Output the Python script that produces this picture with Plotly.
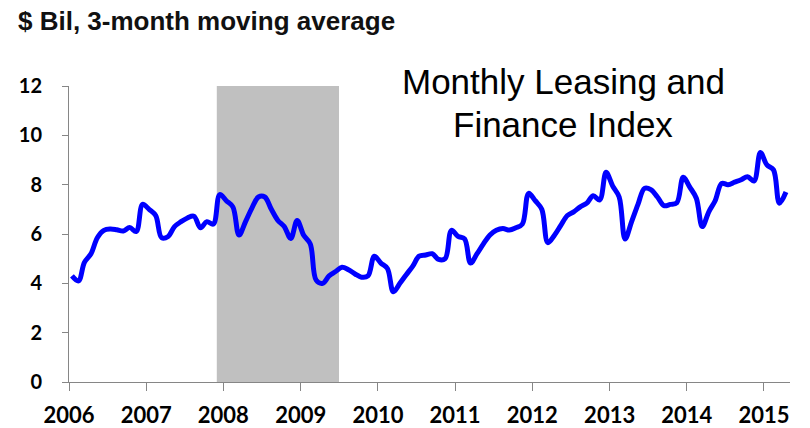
import pandas as pd
import plotly.graph_objects as go

# Monthly values, Jan 2006 .. Apr 2015 ($ Bil, 3-month moving average)
values = [
    4.30, 4.10, 4.85, 5.20, 5.85, 6.15, 6.20, 6.17, 6.12, 6.26, 6.10, 7.20,   # 2006
    7.00, 6.75, 5.85, 5.90, 6.30, 6.50, 6.65, 6.72, 6.25, 6.50, 6.40, 7.60,   # 2007
    7.35, 7.10, 5.96, 6.50, 7.05, 7.50, 7.50, 7.00, 6.55, 6.30, 5.82, 6.55,   # 2008
    5.95, 5.60, 4.13, 4.00, 4.30, 4.48, 4.65, 4.55, 4.38, 4.25, 4.30, 5.10,   # 2009
    4.82, 4.60, 3.66, 4.00, 4.35, 4.70, 5.10, 5.15, 5.20, 4.97, 5.00, 6.15,   # 2010
    5.90, 5.80, 4.82, 5.20, 5.60, 5.96, 6.15, 6.22, 6.16, 6.25, 6.40, 7.65,   # 2011
    7.35, 7.00, 5.65, 5.95, 6.35, 6.75, 6.90, 7.10, 7.25, 7.55, 7.38, 8.50,   # 2012
    7.95, 7.50, 5.80, 6.50, 7.20, 7.85, 7.80, 7.50, 7.15, 7.20, 7.27, 8.30,   # 2013
    7.90, 7.45, 6.30, 6.90, 7.35, 8.05, 8.00, 8.10, 8.20, 8.32, 8.15, 9.30,   # 2014
    8.80, 8.60, 7.25, 7.70,                                                   # 2015
]
dates = pd.date_range("2006-01-01", periods=len(values), freq="MS") + pd.Timedelta(days=14)

years = list(range(2006, 2016))
year_ticks = [f"{y}-01-01" for y in years]
year_labels = [str(y) for y in years]
y_ticks = [0, 2, 4, 6, 8, 10, 12]

recession_start = "2007-12-01"
recession_end = "2009-07-01"

title_lines = ["Monthly Leasing and", "Finance Index"]

fig = go.Figure()
fig.add_trace(go.Scatter(
    x=dates, y=values, mode="lines",
    line=dict(color="#0000FF", width=5, shape="spline", smoothing=1.0),
    hoverinfo="skip", showlegend=False,
))

fig.add_shape(type="rect", xref="x", yref="y",
              x0=recession_start, x1=recession_end, y0=0, y1=12,
              fillcolor="#C0C0C0", line=dict(width=0), layer="below")

PLOT_TOP, PLOT_BOTTOM = 86, 382
def ypaper(py):
    return (PLOT_BOTTOM - py) / (PLOT_BOTTOM - PLOT_TOP)

annotations = []
for line, py in zip(title_lines, [82, 124]):
    annotations.append(dict(
        text=line, xref="paper", yref="paper",
        x=(563 - 69) / (790 - 69), y=ypaper(py),
        xanchor="center", yanchor="middle", showarrow=False,
        font=dict(family="Liberation Sans", size=35, color="black"),
    ))

axis_col = "#868686"
fig.update_layout(
    width=810, height=428,
    margin=dict(l=69, r=20, t=86, b=46, autoexpand=False),
    paper_bgcolor="white", plot_bgcolor="white",
    title=dict(text="<b>$ Bil, 3-month moving average</b>",
               x=18 / 810, xanchor="left", xref="container",
               y=1 - 21 / 428, yanchor="middle", pad=dict(l=0, r=0, t=0, b=0),
               font=dict(family="Liberation Sans", size=26, color="#111111")),
    annotations=annotations,
    xaxis=dict(
        type="date", automargin=False,
        range=["2006-01-01", "2015-05-04"],
        tickvals=year_ticks, ticktext=year_labels,
        showgrid=False, zeroline=False,
        showline=True, linecolor=axis_col, linewidth=1,
        ticks="outside", ticklen=8, tickcolor=axis_col, tickwidth=1,
        tickfont=dict(family="Lato", size=22, color="black", weight="bold"),
        ticklabelstandoff=6,
    ),
    yaxis=dict(
        range=[0, 12], automargin=False,
        tickvals=y_ticks,
        showgrid=False, zeroline=False,
        showline=True, linecolor=axis_col, linewidth=1,
        ticks="outside", ticklen=6, tickcolor=axis_col, tickwidth=1,
        tickfont=dict(family="Lato", size=20, color="black", weight="bold"),
        ticklabelstandoff=16,
    ),
)

fig.write_html("out.html", config={"displayModeBar": False},
               post_script="document.body.style.margin='0';")
